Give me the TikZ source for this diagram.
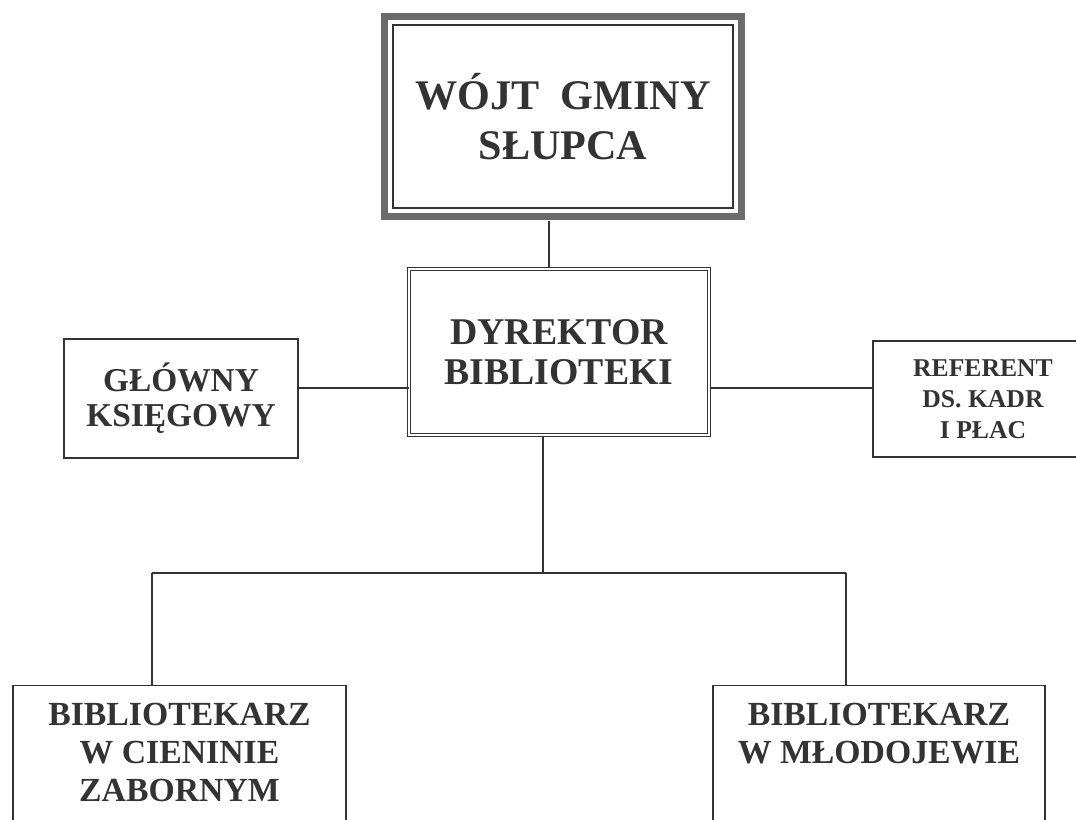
\documentclass[tikz,border=0pt]{standalone}
\usepackage{fontspec}
\setmainfont{Liberation Serif}
\usepackage{tikz}
\usetikzlibrary{calc}

\definecolor{ink}{gray}{0.2}
\definecolor{frameband}{gray}{0.42}

\begin{document}
\begin{tikzpicture}[x=0.02cm,y=-0.02cm,
	box/.style={draw=ink,line width=0.8pt,text=ink,font=\bfseries,align=center},
	libbox/.style={box,anchor=north,inner ysep=10pt,text depth=4cm,font=\fontsize{19.2}{21.5}\selectfont\bfseries},
	link/.style={draw=ink,line width=0.8pt}]
	\useasboundingbox (0,0) rectangle (1076,819);
	\clip (0,0) rectangle (1076,819);
	\fill[white] (0,0) rectangle (1076,819);
\node[box,minimum width=6.8cm,minimum height=3.66cm,font=\fontsize{24}{28.3}\selectfont\bfseries] (wojt) at (563,116.5) {WÓJT\ \ GMINY\\SŁUPCA};
\draw[frameband,line width=4pt] ($(wojt.north west)+(-7.5,-7.5)$) rectangle ($(wojt.south east)+(7.5,7.5)$);
\node[box,double,double distance=1.2pt,line width=0.6pt,minimum width=6.0cm,minimum height=3.32cm,font=\fontsize{21.5}{22.7}\selectfont\bfseries] (dyr) at (559,352) {DYREKTOR\\BIBLIOTEKI};
	\node[box,minimum width=4.68cm,minimum height=2.38cm,font=\fontsize{19}{20}\selectfont\bfseries] (glowny) at (181,398.5) {GŁÓWNY\\KSIĘGOWY};
	\node[box,minimum width=4.4cm,minimum height=2.32cm,font=\fontsize{14.6}{17.6}\selectfont\bfseries] (ref) at (983,399) {REFERENT\\DS. KADR\\I PŁAC};
	\node[libbox,minimum width=6.66cm] (lib1) at (179.5,685) {BIBLIOTEKARZ\\W CIENINIE\\ZABORNYM};
	\node[libbox,minimum width=6.64cm] (lib2) at (879,685) {BIBLIOTEKARZ\\W MŁODOJEWIE};
	\coordinate (up) at (549,0);
	\coordinate (mid) at (0,388);
	\coordinate (bus) at (543,573);
	\coordinate (d1) at (152,573);
	\coordinate (d2) at (846,573);
	\draw[link] ($(wojt.south -| up)+(0,12)$) -- (dyr.north -| up);
	\draw[link] (glowny.east |- mid) -- (dyr.west |- mid);
	\draw[link] (dyr.east |- mid) -- (ref.west |- mid);
	\draw[link] (dyr.south -| bus) -- (bus);
	\draw[link] (d1) -- (d2);
	\draw[link] (d1) -- (lib1.north -| d1);
	\draw[link] (d2) -- (lib2.north -| d2);
\end{tikzpicture}
\end{document}
